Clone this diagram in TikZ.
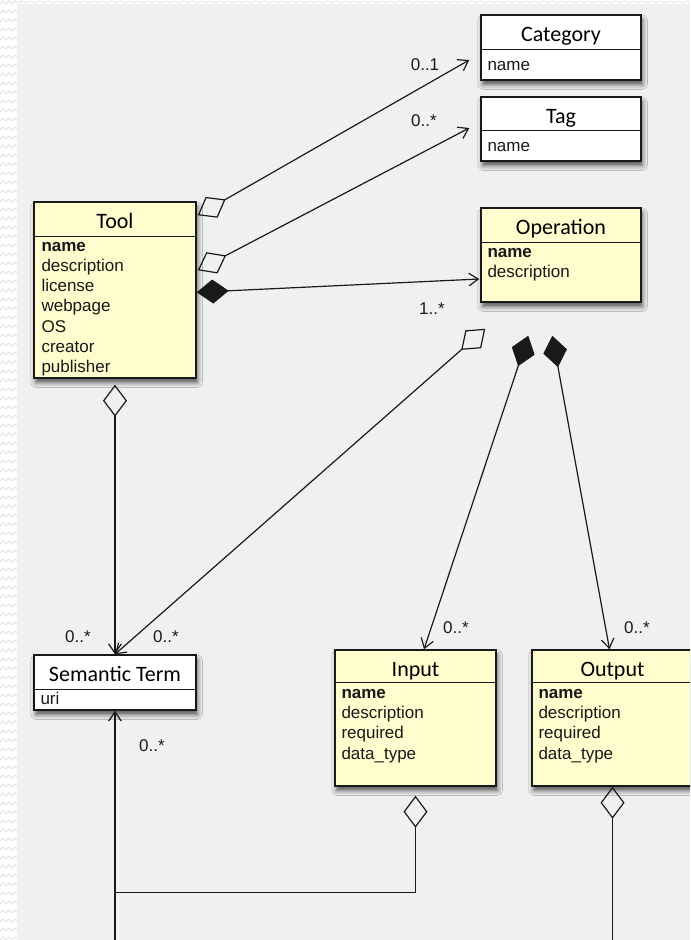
\documentclass[tikz,border=0pt]{standalone}
\usepackage{fontspec}
\setmainfont{Liberation Sans}
\newfontfamily\titlefont{Carlito}
\usetikzlibrary{arrows.meta,calc,shadows.blur}

\definecolor{canvas}{RGB}{240,240,240}
\definecolor{notepad}{RGB}{255,252,206}
\definecolor{zig}{RGB}{226,226,226}
\definecolor{ink}{RGB}{25,25,25}

\tikzset{
  classbox/.style n args={3}{draw=ink, line width=1.1pt, fill=#3,
    minimum width=#1*0.75pt, minimum height=#2*0.75pt, inner sep=0pt,
    blur shadow={shadow xshift=1.2pt, shadow yshift=-3.5pt,
                 shadow blur radius=3.5pt, shadow opacity=65}},
  divider/.style={draw=ink, line width=1.1pt},
  ctitle/.style={font=\titlefont\fontsize{16.5}{18}\selectfont, anchor=base, inner sep=0pt},
  attr/.style={font=\fontsize{12.75}{15}\selectfont, anchor=base west, inner sep=0pt, text=ink},
  mult/.style={font=\fontsize{12.75}{15}\selectfont, inner sep=0pt, text=ink},
  conn/.style={draw=ink, line width=0.9pt},
  agg/.style={conn, {Diamond[open,length=24pt,width=18pt]}-{Straight Barb[length=7pt,width=9.5pt]}},
  comp/.style={conn, {Diamond[length=24pt,width=18pt]}-{Straight Barb[length=7pt,width=9.5pt]}},
  aggend/.style={conn, {Diamond[open,length=24pt,width=18pt]}-},
  arrowend/.style={conn, -{Straight Barb[length=7pt,width=9.5pt]}},
}

\begin{document}
\begin{tikzpicture}[x=0.75pt, y=-0.75pt]
\useasboundingbox (0,0) rectangle (690,940);
\clip (0,0) rectangle (690,940);

% canvas with the zigzag margin strips
\fill[canvas] (0,0) rectangle (690,940);
\fill[white] (0,0) rectangle (17,940);
\fill[white] (0,0) rectangle (690,4);
\foreach \y in {4,13,...,940}
  \draw[zig, line width=0.6pt] (0,\y) -- (3,\y-3) -- (6,\y) -- (9,\y-3) -- (12,\y) -- (15,\y-3) -- (17,\y-1);
\foreach \x in {17,26,...,690}
  \draw[zig, line width=0.6pt] (\x,3) -- (\x+4.5,1) -- (\x+9,3);

% ---------- classes ----------
% Category
\node[classbox={160}{65}{white}] (category) at (561,47.5) {};
\draw[divider] ($(category.north west)+(0,35)$) -- ($(category.north east)+(0,35)$);
\node[ctitle] (category-t) at ($(category.north)+(0,27)$) {Category};
\node[attr] (category-a) at ($(category.north west)+(7,56)$) {name};

% Tag
\node[classbox={160}{64}{white}] (tag) at (561,129) {};
\draw[divider] ($(tag.north west)+(0,34)$) -- ($(tag.north east)+(0,34)$);
\node[ctitle] (tag-t) at ($(tag.north)+(0,27)$) {Tag};
\node[attr] (tag-a) at ($(tag.north west)+(7,55)$) {name};

% Operation
\node[classbox={160}{94}{notepad}] (operation) at (561,255) {};
\draw[divider] ($(operation.north west)+(0,35)$) -- ($(operation.north east)+(0,35)$);
\node[ctitle] (operation-t) at ($(operation.north)+(0,27)$) {Operation};
\node[attr] (operation-a0) at ($(operation.north west)+(7,50)$) {\textbf{name}};
\node[attr] (operation-a1) at ($(operation.north west)+(7,70.2)$) {description};

% Tool
\node[classbox={162}{176}{notepad}] (tool) at (115,290) {};
\draw[divider] ($(tool.north west)+(0,35)$) -- ($(tool.north east)+(0,35)$);
\node[ctitle] (tool-t) at ($(tool.north)+(0,27)$) {Tool};
\node[attr] (tool-a0) at ($(tool.north west)+(8,50)$) {\textbf{name}};
\foreach \t [count=\i] in {description,license,webpage,OS,creator,publisher}
  \node[attr] (tool-a\i) at ($(tool.north west)+(8,50+20.2*\i)$) {\t};

% Semantic Term
\node[classbox={162}{55}{white}] (term) at (115,682.5) {};
\draw[divider] ($(term.north west)+(0,35)$) -- ($(term.north east)+(0,35)$);
\node[ctitle] (term-t) at ($(term.north)+(0,27)$) {Semantic Term};
\node[attr] (term-a) at ($(term.north west)+(7,50)$) {uri};

% Input
\node[classbox={161}{136}{notepad}] (input) at (415.5,718) {};
\draw[divider] ($(input.north west)+(0,33)$) -- ($(input.north east)+(0,33)$);
\node[ctitle] (input-t) at ($(input.north)+(0,27)$) {Input};
\node[attr] (input-a0) at ($(input.north west)+(7,49)$) {\textbf{name}};
\foreach \t [count=\i] in {description,required,data\_type}
  \node[attr] (input-a\i) at ($(input.north west)+(7,49+20.3*\i)$) {\t};

% Output
\node[classbox={161}{136}{notepad}] (output) at (612.5,718) {};
\draw[divider] ($(output.north west)+(0,33)$) -- ($(output.north east)+(0,33)$);
\node[ctitle] (output-t) at ($(output.north)+(0,27)$) {Output};
\node[attr] (output-a0) at ($(output.north west)+(7,49)$) {\textbf{name}};
\foreach \t [count=\i] in {description,required,data\_type}
  \node[attr] (output-a\i) at ($(output.north west)+(7,49+20.3*\i)$) {\t};

% ---------- associations ----------
\draw[agg] ($(tool.north east)+(1,14)$) -- ($(category.west)+(-11,12.5)$);
\draw[agg] ($(tool.north east)+(1,69)$) -- ($(tag.west)+(-11,-1)$);
\draw[comp] ($(tool.north east)+(0,91)$) -- ($(operation.west)+(-1,24)$);
\draw[agg] ($(operation.south west)+(5,26)$) -- (term.north);
\draw[comp] ($(operation.south west)+(48,33)$) -- ($(input.north)+(8.5,0)$);
\draw[comp] ($(operation.south west)+(72,33)$) -- ($(output.north)+(-3,0)$);
\draw[agg] ($(tool.south)+(0,6)$) -- (term.north);

\coordinate (join) at ($(term.south)+(0,182)$);
\coordinate (termfoot) at ($(term.south)+(0,260)$);
\coordinate (outfoot) at ($(output.south)+(0,180)$);
\draw[aggend] ($(input.south)+(0,9)$) |- (join);
\draw[arrowend] (termfoot) -- (term.south);
\draw[aggend] (output.south) -- (outfoot);

% ---------- multiplicities ----------
\node[mult] (m-cat) at (425,65) {0..1};
\node[mult] (m-tag) at (424,121) {0..*};
\node[mult] (m-op) at (432,309) {1..*};
\node[mult] (m-term1) at (78,637) {0..*};
\node[mult] (m-term2) at (166,637) {0..*};
\node[mult] (m-in) at (456,628) {0..*};
\node[mult] (m-out) at (637,628) {0..*};
\node[mult] (m-term3) at (152,746) {0..*};
\end{tikzpicture}
\end{document}
